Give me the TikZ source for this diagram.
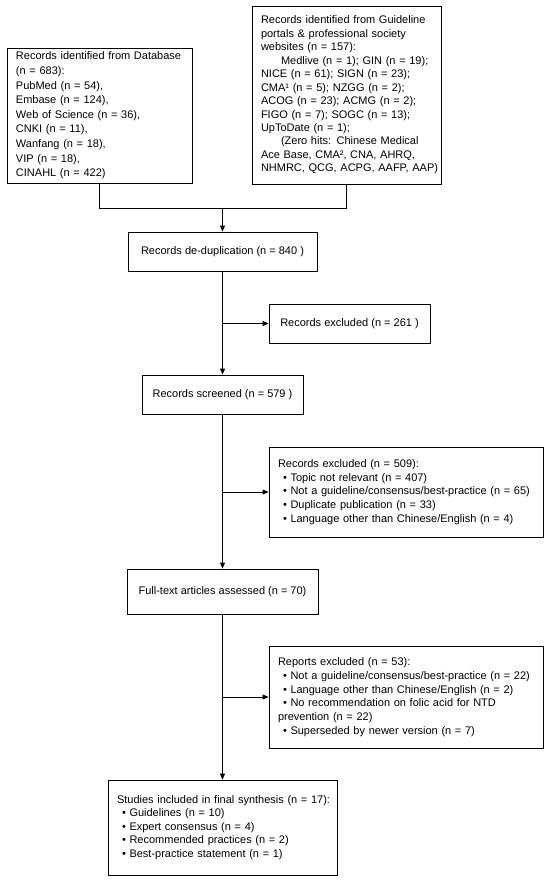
\documentclass[tikz,border=0pt]{standalone}
\usepackage{fontspec}
\setmainfont{Liberation Sans}
\usetikzlibrary{arrows.meta}
\begin{document}
\begin{tikzpicture}[x=1pt,y=-1pt,
  box/.style={draw, line width=0.8pt, rectangle, font=\fontsize{11}{13.6}\selectfont, inner sep=0pt},
  lbox/.style={box, align=left, inner xsep=9pt},
  arr/.style={line width=0.8pt, -{Triangle[length=6pt,width=5pt]}},
  ln/.style={line width=0.8pt}]
\useasboundingbox (0,0) rectangle (550,883);

\node[lbox, minimum width=185pt, minimum height=135pt, text width=167pt, font=\fontsize{11}{14.6}\selectfont] (db) at (99.5,115.5) {\mbox{Records identified from Database}\\(n = 683):\\PubMed (n = 54),\\Embase (n = 124),\\Web of Science (n = 36),\\CNKI (n = 11),\\Wanfang (n = 18),\\VIP (n = 18),\\CINAHL (n = 422)};

\node[lbox, minimum width=189pt, minimum height=178pt, text width=171pt, font=\fontsize{11}{13.45}\selectfont] (gl) at (346.5,95) {\mbox{Records identified from Guideline}\\portals \& professional society\\websites (n = 157):\\\mbox{\hspace*{20pt}Medlive (n = 1); GIN (n = 19);}\\NICE (n = 61); SIGN (n = 23);\\CMA¹ (n = 5); NZGG (n = 2);\\\mbox{ACOG (n = 23); ACMG (n = 2);}\\FIGO (n = 7); SOGC (n = 13);\\UpToDate (n = 1);\\\mbox{\hspace*{20pt}(Zero hits: Chinese Medical}\\\mbox{Ace Base, CMA², CNA, AHRQ,}\\\mbox{NHMRC, QCG, ACPG, AAFP, AAP)}};

\node[box, minimum width=189pt, minimum height=39pt] (dd) at (222.5,251.5) {Records de-duplication (n = 840 )};
\node[box, minimum width=161pt, minimum height=39pt] (ex1) at (349.5,323.5) {Records excluded (n = 261 )};
\node[box, minimum width=161pt, minimum height=39pt] (sc) at (222.5,394.5) {Records screened (n = 579 )};
\node[lbox, minimum width=274pt, minimum height=90pt, text width=256pt] (ex2) at (406,492) {Records excluded (n = 509):\\\hspace*{5pt}• Topic not relevant (n = 407)\\\mbox{\hspace*{5pt}• Not a guideline/consensus/best-practice (n = 65)}\\\hspace*{5pt}• Duplicate publication (n = 33)\\\mbox{\hspace*{5pt}• Language other than Chinese/English (n = 4)}};
\node[box, minimum width=191pt, minimum height=45pt] (ft) at (222.5,591.5) {Full-text articles assessed (n = 70)};
\node[lbox, minimum width=274pt, minimum height=102pt, text width=256pt, font=\fontsize{11}{13.7}\selectfont] (ex3) at (406,697) {Reports excluded (n = 53):\\\mbox{\hspace*{5pt}• Not a guideline/consensus/best-practice (n = 22)}\\\mbox{\hspace*{5pt}• Language other than Chinese/English (n = 2)}\\\mbox{\hspace*{5pt}• No recommendation on folic acid for NTD}\\\mbox{prevention (n = 22)}\\\mbox{\hspace*{5pt}• Superseded by newer version (n = 7)}};
\node[lbox, minimum width=229pt, minimum height=95pt, text width=211pt] (fin) at (222.5,827.5) {\mbox{Studies included in final synthesis (n = 17):}\\\hspace*{5pt}• Guidelines (n = 10)\\\hspace*{5pt}• Expert consensus (n = 4)\\\hspace*{5pt}• Recommended practices (n = 2)\\\hspace*{5pt}• Best-practice statement (n = 1)};

\coordinate (j) at (222.5,208);
\draw[ln] (db.south) -- (db.south |- j) -- (gl.south |- j) -- (gl.south);
\draw[arr] (j) -- (dd.north);
\draw[arr] (dd.south) -- (sc.north);
\draw[arr] (sc.south) -- (ft.north);
\draw[arr] (ft.south) -- (fin.north);
\draw[arr] (dd.south |- ex1.west) -- (ex1.west);
\draw[arr] (sc.south |- ex2.west) -- (ex2.west);
\draw[arr] (ft.south |- ex3.west) -- (ex3.west);
\end{tikzpicture}
\end{document}
